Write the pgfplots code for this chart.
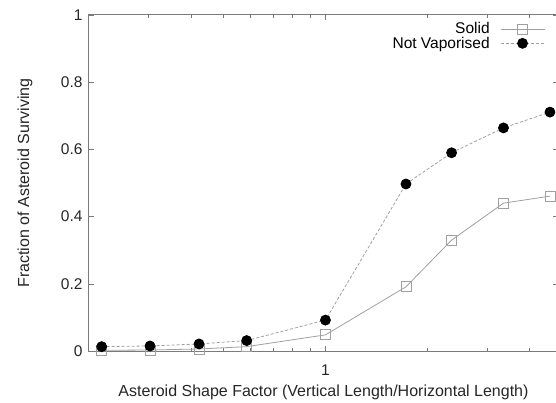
\documentclass[border=0pt]{standalone}
\usepackage{fontspec}
\setmainfont{Liberation Sans}
\usepackage{pgfplots}
\pgfplotsset{compat=1.18}
\definecolor{axgray}{HTML}{7A7A7A}
\definecolor{lngray}{HTML}{A0A0A0}
\begin{document}
\begin{tikzpicture}
\begin{axis}[
  name=ax,
  scale only axis,
  width=469pt, height=336pt,
  xmode=log,
  xmin=0.2, xmax=4.87,
  ymin=0, ymax=1,
  xtick={1}, xticklabels={1},
  minor xtick={0.3,0.4,0.5,0.6,0.7,0.8,0.9,2,3,4},
  ytick={0,0.2,0.4,0.6,0.8,1},
  /pgf/number format/assume math mode=true,
  tick align=inside,
  major tick length=5pt, minor tick length=3pt,
  every tick/.style={axgray, line width=0.6pt},
  axis line style={axgray, line width=1pt},
  tick label style={font=\fontsize{15.5}{19}\selectfont, black!85},
  xticklabel style={yshift=-10pt},
  yticklabel style={xshift=-3pt},
  every axis x label/.style={at={(axis description cs:0.5,-0.122)}, anchor=center,
    font=\fontsize{16}{19}\selectfont, black!85},
  every axis y label/.style={at={(axis description cs:-0.1365,0.5)}, rotate=90, anchor=center,
    font=\fontsize{16}{19}\selectfont, black!85},
  xlabel={Asteroid Shape Factor (Vertical Length/Horizontal Length)},
  ylabel={Fraction of Asteroid Surviving},
  legend style={draw=none, fill=none, at={(0.979,0.985)}, anchor=north east,
    font=\fontsize{15.5}{19}\selectfont, nodes={inner sep=0.5pt}, row sep=0.5pt},
  legend plot pos=right,
  legend cell align=right,
  legend image code/.code={\path (0pt,0pt); \draw[mark repeat=2,mark phase=2,#1] plot coordinates {(10pt,0pt) (32pt,0pt) (54pt,0pt)};},
  clip=false,
]
\addplot[lngray, line width=0.8pt, mark=square, mark size=5pt, mark options={solid, lngray, line width=0.8pt}] coordinates {
  (0.218,0.002) (0.303,0.003) (0.423,0.006) (0.585,0.013) (1,0.048)
  (1.73,0.191) (2.36,0.330) (3.36,0.440) (4.61,0.461)
};
\addlegendentry{Solid}
\addplot[lngray, line width=0.8pt, dash pattern=on 3pt off 2pt, mark=*, mark size=5pt, mark options={solid, black}] coordinates {
  (0.218,0.013) (0.303,0.015) (0.423,0.021) (0.585,0.031) (1,0.092)
  (1.73,0.497) (2.36,0.590) (3.36,0.664) (4.61,0.711)
};
\addlegendentry{Not Vaporised}
\end{axis}
\pgfresetboundingbox
\path[use as bounding box] ([shift={(-89pt,-51pt)}]ax.south west) rectangle ([shift={(467pt,351pt)}]ax.south west);
\end{tikzpicture}
\end{document}
